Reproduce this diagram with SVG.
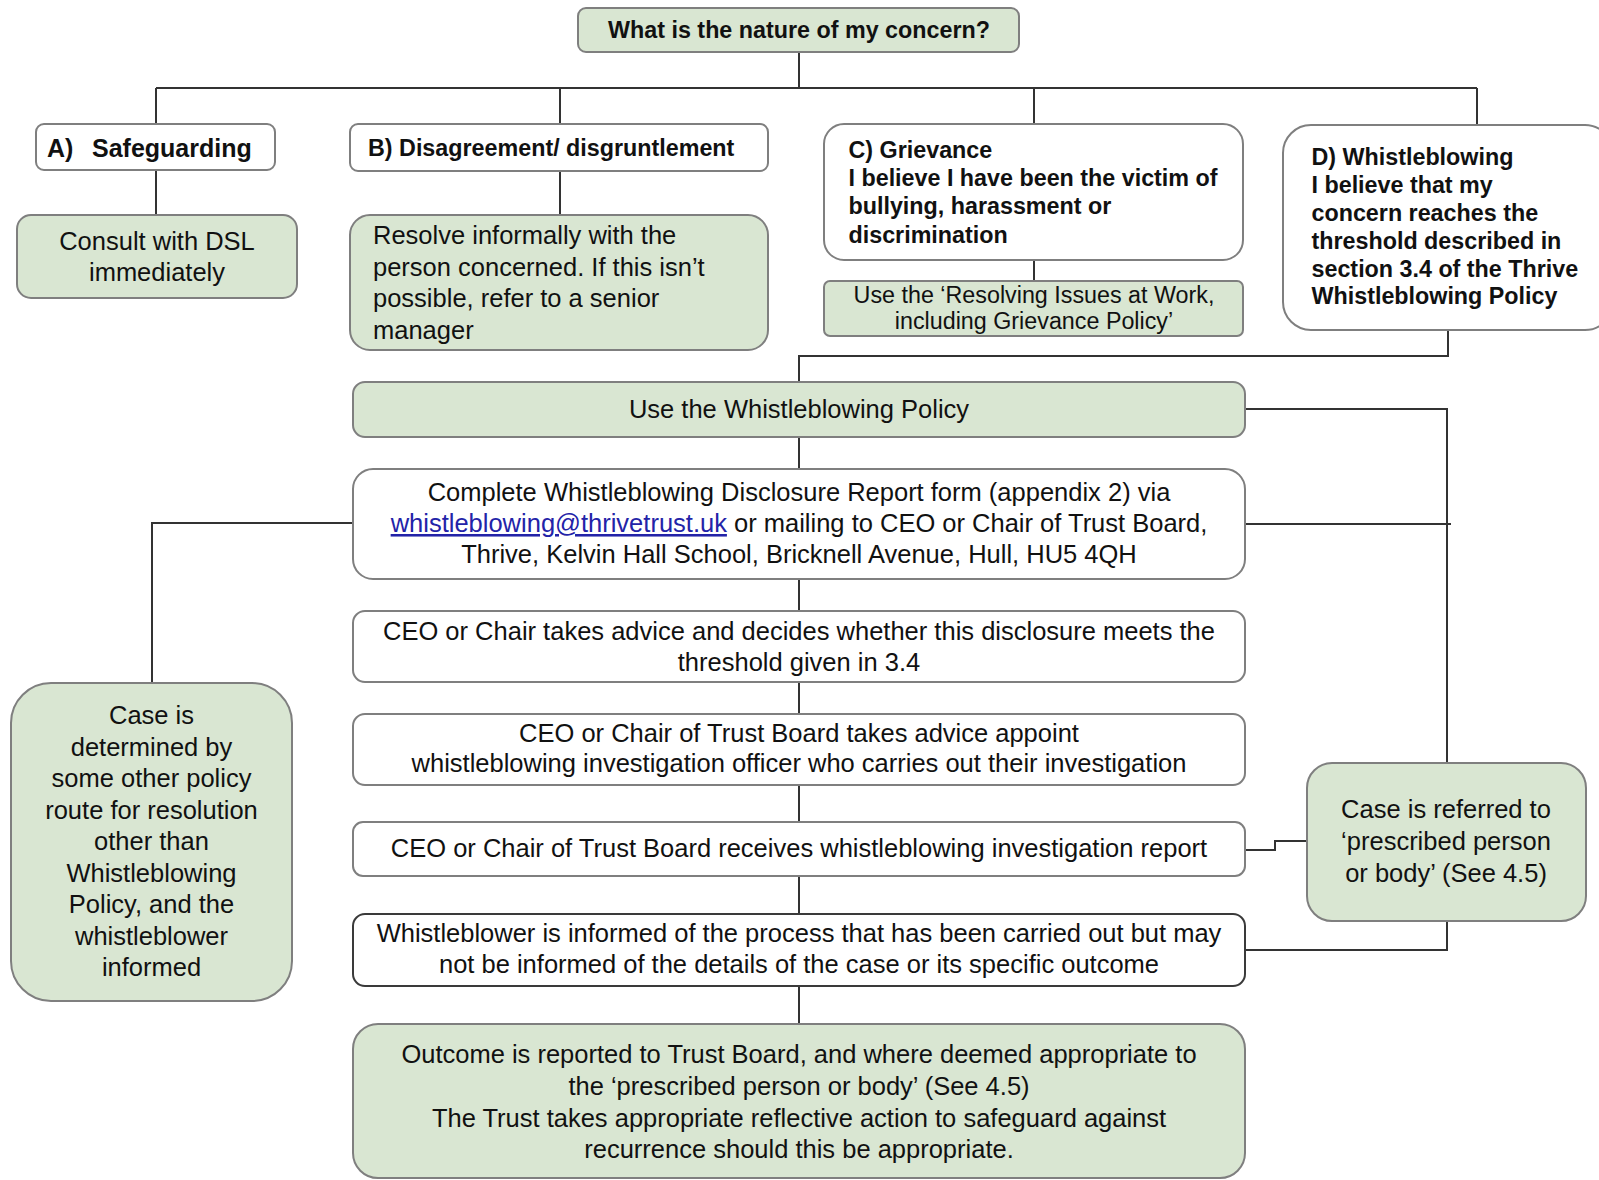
<svg xmlns="http://www.w3.org/2000/svg" width="1599" height="1180" viewBox="0 0 1599 1180">
<style>
.g{fill:#d9e6d2;stroke:#7f7f7f;stroke-width:2}
.w{fill:#ffffff;stroke:#7f7f7f;stroke-width:2}
.wd{fill:#ffffff;stroke:#3a3a3a;stroke-width:2}
.cn{fill:none;stroke:#333333;stroke-width:2}
text{font-family:"Liberation Sans",Arial,sans-serif;fill:#111111}
.r{font-size:25.5px}
.rs{font-size:23.3px}
.b{font-size:23.3px;font-weight:bold}
.bb{font-size:25px;font-weight:bold}
.m{text-anchor:middle}
.link{fill:#2323a8;text-decoration:underline}
</style>
<rect width="1599" height="1180" fill="#ffffff"/>
<g id="connectors">
<path class="cn" d="M799,52 V88 M156,88 H1477 M156,88 V124 M560,88 V124 M1034,88 V124 M1477,88 V125"/>
<path class="cn" d="M156,170 V215 M560,171 V215 M1034,260 V281"/>
<path class="cn" d="M1448,330 V356 H799 V382"/>
<path class="cn" d="M799,437 V469 M799,579 V611 M799,682 V714 M799,785 V822 M799,876 V914 M799,986 V1024"/>
<path class="cn" d="M1245,409 H1447 V763"/>
<path class="cn" d="M1245,524 H1451"/>
<path class="cn" d="M353,523 H152 V683"/>
<path class="cn" d="M1245,850 H1275 V841 H1307"/>
<path class="cn" d="M1447,921 V950 H1245"/>
</g>
<g id="n-title">
<rect class="g" x="578" y="8" width="441" height="44" rx="8"/>
<text class="b m" x="799" y="38">What is the nature of my concern?</text>
</g>
<g id="n-a">
<rect class="w" x="36" y="124" width="239" height="46" rx="8"/>
<text class="bb" x="47" y="157">A)</text>
<text class="bb" x="92" y="157">Safeguarding</text>
</g>
<g id="n-b">
<rect class="w" x="350" y="124" width="418" height="47" rx="8"/>
<text class="b" x="368" y="156">B) Disagreement/ disgruntlement</text>
</g>
<g id="n-c">
<rect class="w" x="824" y="124" width="419" height="136" rx="20"/>
<text class="b" x="848.5" y="158">C) Grievance</text>
<text class="b" x="848.5" y="186">I believe I have been the victim of</text>
<text class="b" x="848.5" y="214">bullying, harassment or</text>
<text class="b" x="848.5" y="243">discrimination</text>
</g>
<g id="n-d">
<rect class="w" x="1283" y="125" width="330" height="205" rx="28"/>
<text class="b" x="1311.5" y="165">D) Whistleblowing</text>
<text class="b" x="1311.5" y="193">I believe that my</text>
<text class="b" x="1311.5" y="221">concern reaches the</text>
<text class="b" x="1311.5" y="249">threshold described in</text>
<text class="b" x="1311.5" y="277">section 3.4 of the Thrive</text>
<text class="b" x="1311.5" y="304">Whistleblowing Policy</text>
</g>
<g id="n-consult">
<rect class="g" x="17" y="215" width="280" height="83" rx="14"/>
<text class="r m" x="157" y="250">Consult with DSL</text>
<text class="r m" x="157" y="281">immediately</text>
</g>
<g id="n-resolve">
<rect class="g" x="350" y="215" width="418" height="135" rx="20"/>
<text class="r" x="373" y="244">Resolve informally with the</text>
<text class="r" x="373" y="276">person concerned. If this isn’t</text>
<text class="r" x="373" y="307">possible, refer to a senior</text>
<text class="r" x="373" y="339">manager</text>
</g>
<g id="n-grievance-policy">
<rect class="g" x="824" y="281" width="419" height="55" rx="6"/>
<text class="rs m" x="1034" y="303">Use the ‘Resolving Issues at Work,</text>
<text class="rs m" x="1034" y="329">including Grievance Policy’</text>
</g>
<g id="n-use-wb">
<rect class="g" x="353" y="382" width="892" height="55" rx="12"/>
<text class="r m" x="799" y="418">Use the Whistleblowing Policy</text>
</g>
<g id="n-complete">
<rect class="w" x="353" y="469" width="892" height="110" rx="20"/>
<text class="r m" x="799" y="501">Complete Whistleblowing Disclosure Report form (appendix 2) via</text>
<text class="r m" x="799" y="532"><tspan class="link">whistleblowing@thrivetrust.uk</tspan> or mailing to CEO or Chair of Trust Board,</text>
<text class="r m" x="799" y="563">Thrive, Kelvin Hall School, Bricknell Avenue, Hull, HU5 4QH</text>
</g>
<g id="n-decides">
<rect class="w" x="353" y="611" width="892" height="71" rx="12"/>
<text class="r m" x="799" y="640">CEO or Chair takes advice and decides whether this disclosure meets the</text>
<text class="r m" x="799" y="671">threshold given in 3.4</text>
</g>
<g id="n-appoint">
<rect class="w" x="353" y="714" width="892" height="71" rx="12"/>
<text class="r m" x="799" y="742">CEO or Chair of Trust Board takes advice appoint</text>
<text class="r m" x="799" y="772">whistleblowing investigation officer who carries out their investigation</text>
</g>
<g id="n-receives">
<rect class="w" x="353" y="822" width="892" height="54" rx="10"/>
<text class="r m" x="799" y="857">CEO or Chair of Trust Board receives whistleblowing investigation report</text>
</g>
<g id="n-informed">
<rect class="wd" x="353" y="914" width="892" height="72" rx="12"/>
<text class="r m" x="799" y="942">Whistleblower is informed of the process that has been carried out but may</text>
<text class="r m" x="799" y="973">not be informed of the details of the case or its specific outcome</text>
</g>
<g id="n-outcome">
<rect class="g" x="353" y="1024" width="892" height="154" rx="25"/>
<text class="r m" x="799" y="1063">Outcome is reported to Trust Board, and where deemed appropriate to</text>
<text class="r m" x="799" y="1095">the ‘prescribed person or body’ (See 4.5)</text>
<text class="r m" x="799" y="1127">The Trust takes appropriate reflective action to safeguard against</text>
<text class="r m" x="799" y="1158">recurrence should this be appropriate.</text>
</g>
<g id="n-other-policy">
<rect class="g" x="11" y="683" width="281" height="318" rx="40"/>
<text class="r m" x="151.5" y="724">Case is</text>
<text class="r m" x="151.5" y="756">determined by</text>
<text class="r m" x="151.5" y="787">some other policy</text>
<text class="r m" x="151.5" y="819">route for resolution</text>
<text class="r m" x="151.5" y="850">other than</text>
<text class="r m" x="151.5" y="882">Whistleblowing</text>
<text class="r m" x="151.5" y="913">Policy, and the</text>
<text class="r m" x="151.5" y="945">whistleblower</text>
<text class="r m" x="151.5" y="976">informed</text>
</g>
<g id="n-prescribed">
<rect class="g" x="1307" y="763" width="279" height="158" rx="25"/>
<text class="r m" x="1446" y="818">Case is referred to</text>
<text class="r m" x="1446" y="850">‘prescribed person</text>
<text class="r m" x="1446" y="882">or body’ (See 4.5)</text>
</g>
</svg>
